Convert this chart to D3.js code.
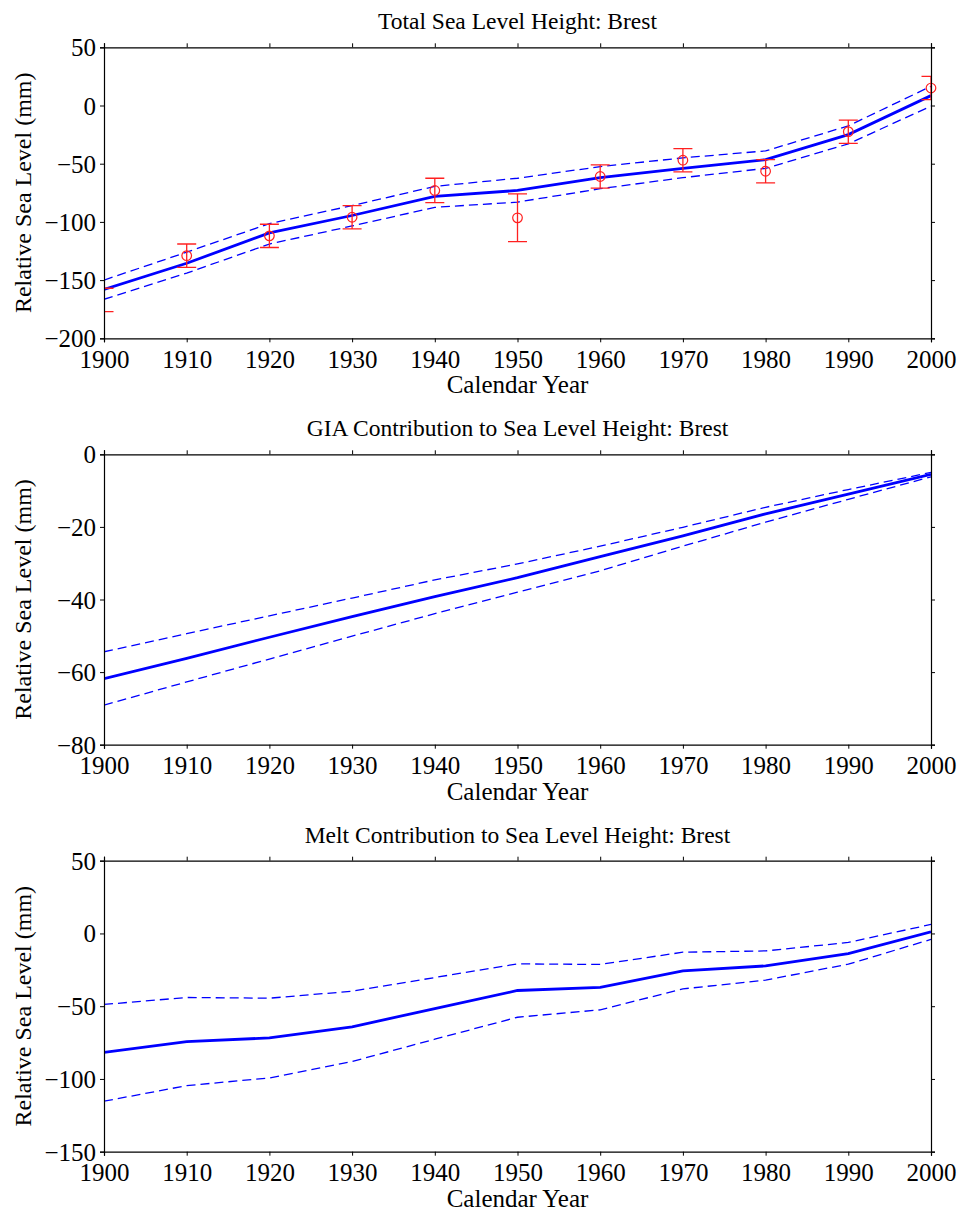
<!DOCTYPE html>
<html>
<head>
<meta charset="utf-8">
<script src="https://cdn.jsdelivr.net/npm/d3@7"></script>
<style>
  body { margin: 0; background: #fff; }
  svg { display: block; }
  text { font-family: "Liberation Serif", "Times New Roman", serif; fill: #000; }
</style>
</head>
<body>
<div id="chart"></div>
<script>
// Decades shared by all three panels
var years = [1900, 1910, 1920, 1930, 1940, 1950, 1960, 1970, 1980, 1990, 2000];

// Total sea level (mm): model mean and bounds
var totalMid   = [-158, -135.5, -109.5, -94.5, -78, -73, -62, -54, -46.5, -25, 8.5];
var totalUpper = [-150, -126, -101.5, -86, -69.5, -62.5, -52.5, -45, -39, -17.5, 16.5];
var totalLower = [-166.5, -144, -119, -103.5, -87.5, -83, -71.5, -62, -54, -33, -0.5];

// Tide gauge observations with error bars
var obsYears  = [1900, 1910, 1920, 1930, 1940, 1950, 1960, 1970, 1980, 1990, 2000];
var obsValues = [-167, -129, -112, -96, -73, -96.5, -61, -47, -56.5, -22.5, 15];
var obsErrors = [10, 10, 10, 10, 10.5, 20.5, 10, 10, 10, 10, 10];
var obsMarker = [false, true, true, true, true, true, true, true, true, true, true];

// GIA contribution (mm)
var giaMid   = [-61.8, -56.2, -50.4, -44.7, -39.2, -34, -28.2, -22.5, -16.4, -11, -5.5];
var giaUpper = [-54.4, -49.4, -44.5, -39.6, -34.6, -30.2, -25.3, -20.1, -14.6, -9.7, -5];
var giaLower = [-69.1, -62.7, -56.4, -50.1, -43.9, -38, -32.1, -25.3, -18.7, -12.4, -6.2];

// Melt contribution (mm)
var meltMid   = [-81.8, -74.3, -71.8, -64.2, -51.6, -39.2, -37, -25.7, -22.3, -13.8, 1.1];
var meltUpper = [-48.8, -44, -44.5, -39.7, -30.3, -20.9, -21.3, -12.9, -12, -6.2, 6.2];
var meltLower = [-115.3, -104.6, -99.3, -88, -72.7, -57.6, -52.5, -38.1, -32.1, -21.1, -4.1];

// Axis ticks
var xTicks = [1900, 1910, 1920, 1930, 1940, 1950, 1960, 1970, 1980, 1990, 2000];
var totalTicks = [-200, -150, -100, -50, 0, 50];
var giaTicks = [-80, -60, -40, -20, 0];
var meltTicks = [-150, -100, -50, 0, 50];

var width = 960, height = 1213;
var left = 104, right = 931;

var svg = d3.select("#chart").append("svg")
    .attr("width", width)
    .attr("height", height);

var x = d3.scaleLinear().domain([1900, 2000]).range([left, right]);

function drawPanel(id, opts) {
    var top = opts.top, bottom = opts.bottom;
    var y = d3.scaleLinear().domain(opts.domain).range([bottom, top]);
    var g = svg.append("g");

    // clip for lines and error bars
    g.append("clipPath").attr("id", "clip" + id)
        .append("rect")
        .attr("x", left).attr("y", top)
        .attr("width", right - left).attr("height", bottom - top);

    var line = d3.line()
        .x((d, i) => x(years[i]))
        .y(d => y(d));

    var plot = g.append("g").attr("clip-path", "url(#clip" + id + ")");

    [opts.upper, opts.lower].forEach(function (s) {
        plot.append("path")
            .attr("d", line(s))
            .attr("fill", "none")
            .attr("stroke", "#0000ff")
            .attr("stroke-width", 1.3)
            .attr("stroke-dasharray", "9,5");
    });
    plot.append("path")
        .attr("d", line(opts.mid))
        .attr("fill", "none")
        .attr("stroke", "#0000ff")
        .attr("stroke-width", 2.8);

    // observations
    if (opts.obs) {
        var cap = 9.5;
        obsYears.forEach(function (yr, i) {
            var cx = x(yr);
            var y0 = y(obsValues[i] - obsErrors[i]);
            var y1 = y(obsValues[i] + obsErrors[i]);
            plot.append("line").attr("x1", cx).attr("x2", cx).attr("y1", y0).attr("y2", y1);
            plot.append("line").attr("x1", cx - cap).attr("x2", cx + cap).attr("y1", y0).attr("y2", y0);
            plot.append("line").attr("x1", cx - cap).attr("x2", cx + cap).attr("y1", y1).attr("y2", y1);
            if (obsMarker[i]) {
                g.append("circle")
                    .attr("cx", cx).attr("cy", y(obsValues[i])).attr("r", 4.8)
                    .attr("fill", "none")
                    .attr("stroke", "#ff2020")
                    .attr("stroke-width", 1.2);
            }
        });
        plot.selectAll("line").attr("stroke", "#ff2020").attr("stroke-width", 1.3);
    }

    // axes on all four sides, ticks outward
    var xb = d3.axisBottom(x).tickValues(xTicks).tickSize(4).tickPadding(6).tickFormat(d3.format("d"));
    var xt = d3.axisTop(x).tickValues(xTicks).tickSize(4).tickFormat("");
    var yl = d3.axisLeft(y).tickValues(opts.ticks).tickSize(4).tickPadding(4);
    var yr = d3.axisRight(y).tickValues(opts.ticks).tickSize(4).tickFormat("");

    var axB = g.append("g").attr("transform", "translate(0," + bottom + ")").call(xb);
    g.append("g").attr("transform", "translate(0," + top + ")").call(xt);
    var axL = g.append("g").attr("transform", "translate(" + left + ",0)").call(yl);
    g.append("g").attr("transform", "translate(" + right + ",0)").call(yr);

    g.selectAll(".domain").attr("stroke", "#000").attr("stroke-width", 1.2);
    g.selectAll(".tick line").attr("stroke", "#000").attr("stroke-width", 1);
    g.selectAll(".tick text")
        .style("font-family", "'Liberation Serif', 'Times New Roman', serif")
        .style("font-size", "25px")
        .attr("fill", "#000");
    axB.selectAll(".tick text").attr("dy", "0.78em");
    axL.selectAll(".tick text").attr("dy", "0.34em");

    // title and labels
    g.append("text")
        .attr("x", (left + right) / 2)
        .attr("y", top - 18)
        .attr("text-anchor", "middle")
        .style("font-size", "23.5px")
        .text(opts.title);
    g.append("text")
        .attr("x", (left + right) / 2)
        .attr("y", bottom + 55)
        .attr("text-anchor", "middle")
        .style("font-size", "25px")
        .text("Calendar Year");
    g.append("text")
        .attr("transform", "translate(31," + (top + bottom) / 2 + ") rotate(-90)")
        .attr("text-anchor", "middle")
        .style("font-size", "24px")
        .text("Relative Sea Level (mm)");
}

drawPanel(1, {
    top: 47.3, bottom: 338.3, domain: [-200, 50], ticks: totalTicks,
    mid: totalMid, upper: totalUpper, lower: totalLower, obs: true,
    title: "Total Sea Level Height: Brest"
});
drawPanel(2, {
    top: 454.3, bottom: 744.7, domain: [-80, 0], ticks: giaTicks,
    mid: giaMid, upper: giaUpper, lower: giaLower, obs: false,
    title: "GIA Contribution to Sea Level Height: Brest"
});
drawPanel(3, {
    top: 860.7, bottom: 1151.7, domain: [-150, 50], ticks: meltTicks,
    mid: meltMid, upper: meltUpper, lower: meltLower, obs: false,
    title: "Melt Contribution to Sea Level Height: Brest"
});
</script>
</body>
</html>
